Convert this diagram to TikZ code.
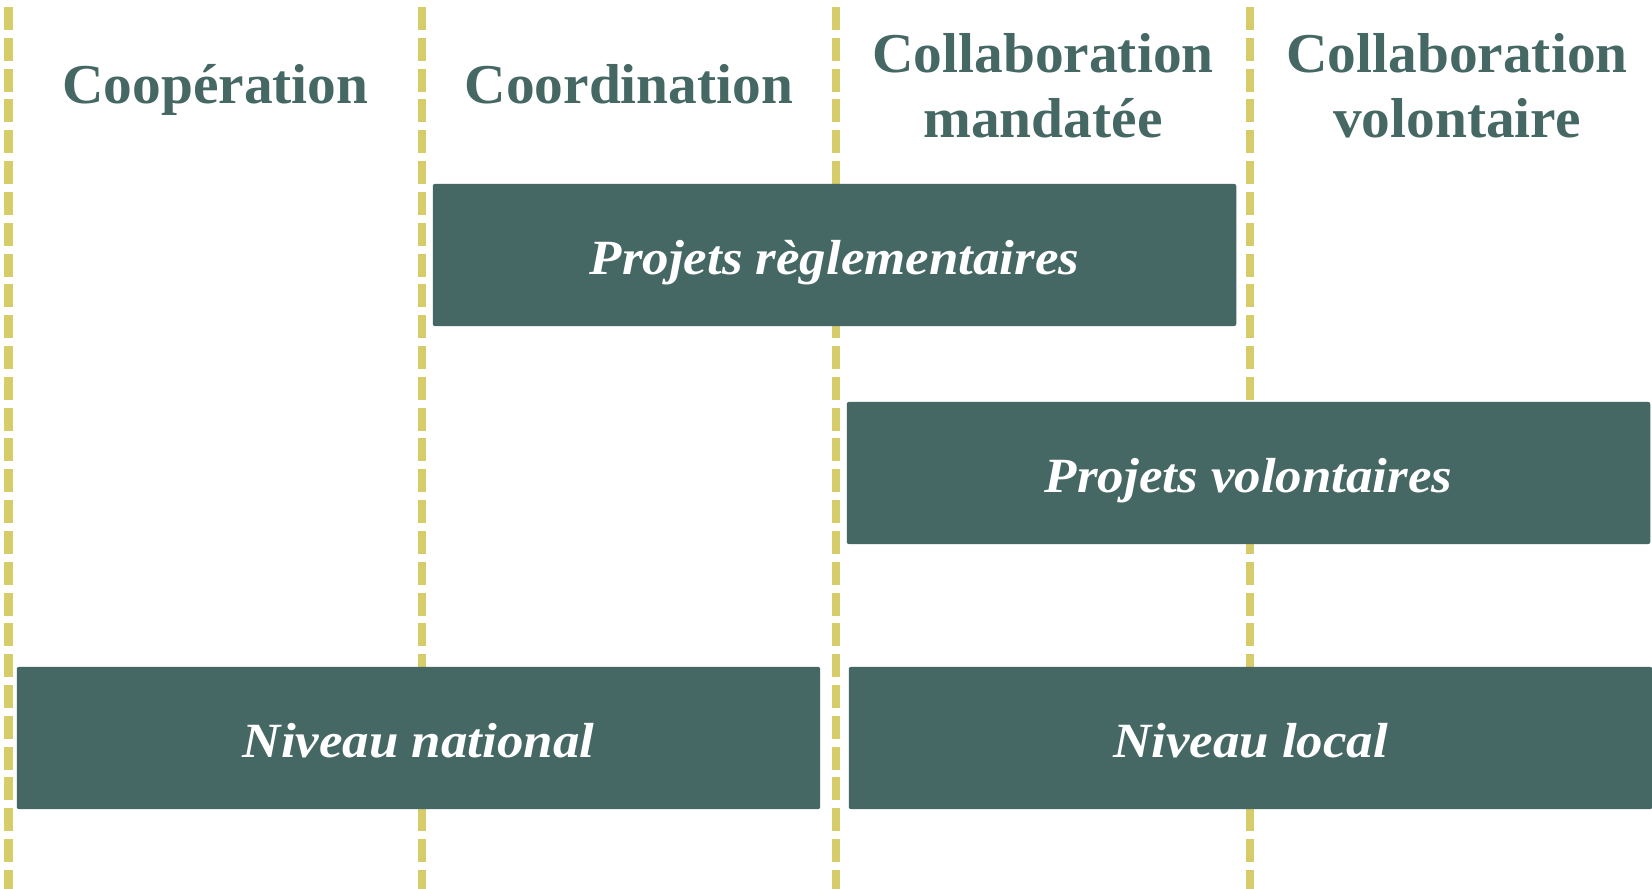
\documentclass[tikz,border=0pt]{standalone}
\usepackage{fontspec}
\setmainfont{Liberation Serif}
\newfontfamily\boxfont[FakeStretch=1.075]{Liberation Serif}
\newfontfamily\headfont[FakeStretch=1.02]{Liberation Serif}
\definecolor{teal}{HTML}{466864}
\definecolor{olive}{HTML}{D6CD6A}
\tikzset{
  sep/.style={draw=olive, line width=0.08cm, dash pattern=on 0.23cm off 0.078cm},
  blk/.style={fill=teal, draw=none, rounded corners=0.02cm, minimum width=8.03cm, minimum height=1.42cm, inner sep=0pt,
    text height=0.38cm, text depth=0cm,
    text=white, font=\boxfont\fontsize{14}{16}\selectfont\bfseries\itshape},
  head/.style={text=teal, align=center, font=\headfont\fontsize{16}{18.5}\selectfont\bfseries, inner sep=0pt}
}
\begin{document}
\begin{tikzpicture}[x=0.01cm,y=-0.01cm]
\useasboundingbox (0,0) rectangle (1652,889);
\fill[white] (0,0) rectangle (1652,889);
% separators
\foreach \xx/\nm in {8.5/s1,422/s2,836/s3,1250/s4}{
  \coordinate (\nm t) at (\xx,7);
  \coordinate (\nm b) at (\xx,889);
  \draw[sep] (\nm t) -- (\nm b);
}
% headers
\node[head, anchor=base] (h1) at (215.5,104) {Coopération};
\node[head, anchor=base] (h2) at (629,104) {Coordination};
\node[head] (h3) at (1043,86) {Collaboration\\mandatée};
\node[head] (h4) at (1457,86) {Collaboration\\volontaire};
% boxes
\node[blk] (pr) at (834.5,255) {Projets règlementaires};
\node[blk] (pv) at (1248.5,473) {Projets volontaires};
\node[blk] (nn) at (418.5,738) {Niveau national};
\node[blk] (nl) at (1250.5,738) {Niveau local};
\end{tikzpicture}
\end{document}
